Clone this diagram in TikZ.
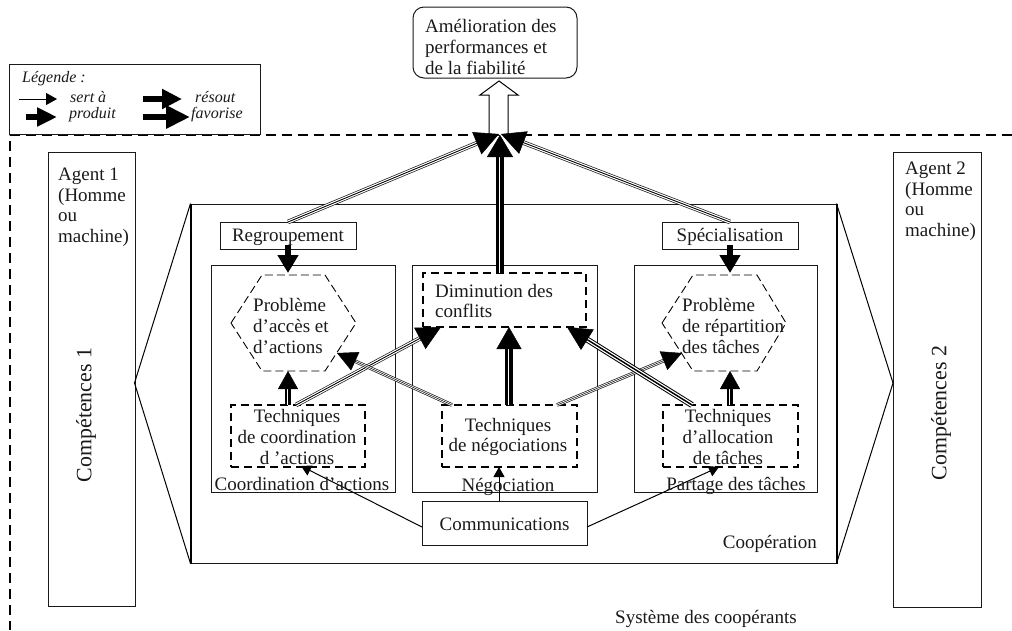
\documentclass[tikz,border=0pt]{standalone}
\usepackage{fontspec}
\setmainfont{Liberation Serif}
\usetikzlibrary{arrows.meta}
\definecolor{ink}{HTML}{1A1A1A}
\tikzset{
  x=1pt,y=-1pt,
  boxn/.style={draw=ink,line width=1pt,inner sep=0pt,align=center},
  dashbox/.style={draw=black,line width=1.5pt,dash pattern=on 8pt off 5pt,inner sep=0pt},
  hexa/.style={draw=black,line width=.9pt,dash pattern=on 8pt off 4pt},
  sysline/.style={draw=black,line width=1.5pt,dash pattern=on 10pt off 6pt},
  txt/.style={font=\fontsize{19}{20.6}\selectfont,text=ink,inner sep=0pt,align=left},
  txtc/.style={txt,align=center},
  legtxt/.style={font=\fontsize{16}{18}\selectfont\itshape,text=ink,inner sep=0pt},
  bigtxt/.style={font=\fontsize{21.9}{24}\selectfont,text=ink,inner sep=0pt,rotate=90},
  thinlink/.style={draw=black,line width=1pt},
  triplelink/.style={draw=ink,line width=4.6pt,postaction={draw=white,line width=3.2pt},postaction={draw=ink,line width=.7pt}},
  heavylink/.style={draw=black,line width=6pt,postaction={draw=white,line width=4pt},postaction={draw=black,line width=1.4pt}},
  duolink/.style={draw=ink,line width=3.6pt,postaction={draw=white,line width=2.2pt}},
  twolink/.style={draw=black,line width=6pt,postaction={draw=white,line width=1.6pt}},
  widelink/.style={draw=black,line width=8pt,postaction={draw=white,line width=1.4pt}},
  sidelink/.style={draw=black,line width=1pt},
}
% style of the shaft, from, to, head length, head width
\newcommand\shaftconn[5]{%
  \draw[#1,shorten >=#4pt] (#2) -- (#3);
  \draw[-{Triangle[length=#4pt,width=#5pt]},draw=black,line width=.5pt] (#2) -- (#3);}
\newcommand\thickconn[5]{%
  \draw[-{Triangle[length=#3pt,width=#4pt]},draw=black,line width=#5pt] (#1) -- (#2);}
\begin{document}
\begin{tikzpicture}
\useasboundingbox (0,0) rectangle (1012,630);
\fill[white] (0,0) rectangle (1012,630);

% system boundary
\coordinate (sysA) at (1012,135);
\coordinate (sysO) at (10,135);
\coordinate (sysB) at (10,630);
\draw[sysline] (sysA) -- (sysO) -- (sysB);

% boxes
\node[boxn,minimum width=251pt,minimum height=70pt] (legend) at (134.5,99) {};
\node[boxn,minimum width=87pt,minimum height=454pt] (agent1) at (91.5,379) {};
\node[boxn,minimum width=88pt,minimum height=455pt] (agent2) at (937,379.5) {};
\node[boxn,minimum width=645pt,minimum height=359pt] (coop) at (513.5,383.5) {};
\draw[sidelink,line width=2pt] (coop.north west) -- (coop.south west);
\draw[sidelink,line width=2pt] (coop.north east) -- (coop.south east);
\node[boxn,rounded corners=11pt,minimum width=164pt,minimum height=71pt] (top) at (495,42.5) {};
\node[boxn,minimum width=184pt,minimum height=227pt] (coordb) at (303,378.5) {};
\node[boxn,minimum width=185pt,minimum height=227pt] (negob) at (504.5,378.5) {};
\node[boxn,minimum width=183pt,minimum height=227pt] (partb) at (725.5,378.5) {};
\node[boxn,txtc,minimum width=136pt,minimum height=27pt] (reg) at (288,235.5) {\raisebox{-5.5pt}[0pt][0pt]{Regroupement}};
\node[boxn,txtc,minimum width=136pt,minimum height=27pt] (spec) at (730,235.5) {\raisebox{-5.5pt}[0pt][0pt]{Spécialisation}};
\node[dashbox,minimum width=163pt,minimum height=54pt] (dimin) at (504.5,300) {};
\node[dashbox,minimum width=134pt,minimum height=62pt] (t1) at (298,436) {};
\node[dashbox,minimum width=135pt,minimum height=62pt] (t2) at (509.5,436) {};
\node[dashbox,minimum width=135pt,minimum height=62pt] (t3) at (730.5,436) {};
\node[boxn,txtc,minimum width=165pt,minimum height=44pt] (comm) at (504.5,523) {\raisebox{-7pt}[0pt][0pt]{Communications}};

% hexagons
\draw[hexa] (231,323) -- (262,275) -- (325,275) -- (356,323) -- (325,371) -- (262,371) -- cycle;
\draw[hexa] (662,323) -- (693,275) -- (757,275) -- (786,323) -- (757,371) -- (693,371) -- cycle;

% agents to cooperation
\coordinate (a1p) at (134.5,383);
\coordinate (a2p) at (893,383);
\draw[thinlink] (coop.north west) -- (a1p) -- (coop.south west);
\draw[thinlink] (coop.north east) -- (a2p) -- (coop.south east);

% open arrow
\draw[draw=black,line width=1pt,fill=white] (489,135) -- (489,95) -- (480,95) -- (499,81) -- (518,95) -- (508,95) -- (508,135);

% connector end points
\coordinate (upL) at (499,134);
\coordinate (upC) at (500,135);
\coordinate (upR) at (501,134);
\coordinate (regS) at (288,222);
\coordinate (specS) at (730,222);
\coordinate (diminS) at (500,273);
\coordinate (hA) at (288,273);
\coordinate (hB) at (730,273);
\coordinate (regB) at (288,245);
\coordinate (specB) at (730,245);
\coordinate (t1up) at (288,405);
\coordinate (h1b) at (288,371);
\coordinate (t3up) at (730,405);
\coordinate (h2b) at (730,371);
\coordinate (t1r) at (296,405);
\coordinate (dL) at (441,327);
\coordinate (t2l) at (452,405);
\coordinate (h1r) at (337,353);
\coordinate (t2r) at (557,405);
\coordinate (h2l) at (682,353);
\coordinate (t3l) at (692,405);
\coordinate (dR) at (567,327);
\coordinate (t2c) at (509,405);
\coordinate (dC) at (509,327);
\coordinate (commL) at (422,527);
\coordinate (commR) at (587,527);
\coordinate (t1b) at (301,466);
\coordinate (t3b) at (719,467);
\coordinate (t2b) at (499,467);
\coordinate (commT) at (499,501);

% heavy connectors
\shaftconn{triplelink}{regS}{upL}{24}{24}
\shaftconn{triplelink}{specS}{upR}{24}{24}
\shaftconn{widelink}{diminS}{upC}{22}{26}
\thickconn{regB}{hA}{18}{20}{6}
\thickconn{specB}{hB}{18}{20}{6}
\shaftconn{twolink}{t1up}{h1b}{18}{20}
\shaftconn{twolink}{t3up}{h2b}{18}{20}
\shaftconn{triplelink}{t1r}{dL}{24}{24}
\shaftconn{duolink}{t2l}{h1r}{20}{20}
\shaftconn{duolink}{t2r}{h2l}{20}{20}
\shaftconn{heavylink}{t3l}{dR}{24}{24}
\shaftconn{widelink}{t2c}{dC}{22}{25}

% thin connectors
\draw[thinlink,-{Triangle[length=10pt,width=11pt]}] (commL) -- (t1b);
\draw[thinlink,-{Triangle[length=10pt,width=11pt]}] (commR) -- (t3b);
\draw[thinlink,-{Triangle[length=10pt,width=11pt]}] (commT) -- (t2b);

% legend
\coordinate (l1a) at (19,99);  \coordinate (l1b) at (57,99);
\coordinate (l2a) at (26,117); \coordinate (l2b) at (57,117);
\coordinate (l3a) at (143,99); \coordinate (l3b) at (182,99);
\coordinate (l4a) at (143,117);\coordinate (l4b) at (190,117);
\draw[thinlink,-{Triangle[length=11pt,width=12pt]}] (l1a) -- (l1b);
\thickconn{l2a}{l2b}{20}{18}{6}
\thickconn{l3a}{l3b}{20}{19}{6}
\thickconn{l4a}{l4b}{24}{22}{6}
\node[legtxt,anchor=west] (lt0) at (22,79) {Légende :};
\node[legtxt,anchor=west] (lt1) at (70,97) {sert à};
\node[legtxt,anchor=west] (lt2) at (69,115) {produit};
\node[legtxt,anchor=west] (lt3) at (195,97) {résout};
\node[legtxt,anchor=west] (lt4) at (191,115) {favorise};

% texts
\node[txt,anchor=west] (ttop) at (425,47) {Amélioration des\\performances et\\de la fiabilité};
\node[txt,anchor=north west] (ag1) at (58,168) {Agent 1\\(Homme\\ou\\machine)};
\node[txt,anchor=north west] (ag2) at (905,162) {Agent 2\\(Homme\\ou\\machine)};
\node[bigtxt] (c1) at (86,415) {Compétences 1};
\node[bigtxt] (c2) at (941,413) {Compétences 2};
\node[txt,anchor=west] (tp1) at (253,326) {Problème\\d’accès et\\d’actions};
\node[txt,anchor=west] (tp2) at (682,326) {Problème\\de répartition\\des tâches};
\node[txt,anchor=west] (tdim) at (435,301) {Diminution des\\conflits};
\node[txtc] (tt1) at (297,437) {Techniques\\de coordination\\d ’actions};
\node[txtc] (tt2) at (508,437) {Techniques\\de négociations};
\node[txtc] (tt3) at (728,437) {Techniques\\d’allocation\\de tâches};
\node[txtc] (lcoord) at (302,484) {Coordination d’actions};
\node[txtc] (lnego) at (508,487) {Négociation};
\node[txtc] (lpart) at (736,486) {Partage des tâches};
\node[txt,anchor=east] (lcoop) at (817,544) {Coopération};
\node[txt,anchor=west] (lsys) at (615,619) {Système des coopérants};
\end{tikzpicture}
\end{document}
